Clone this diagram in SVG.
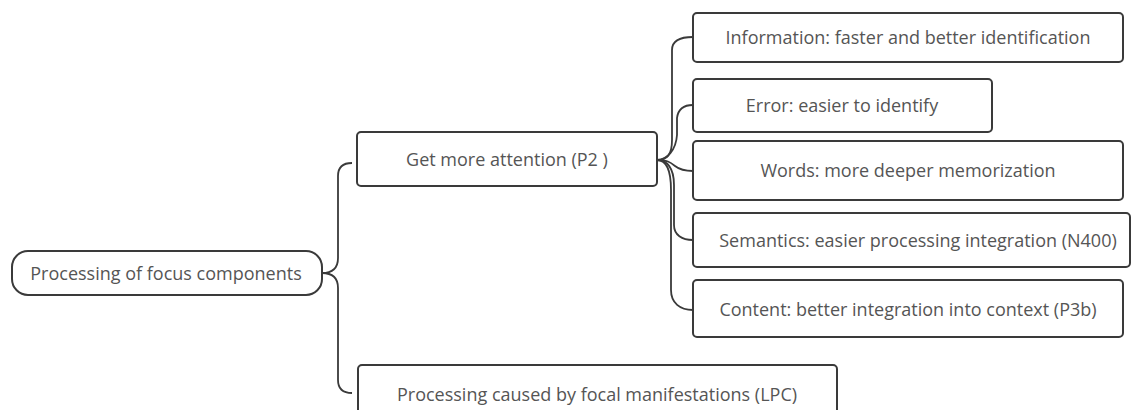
<svg xmlns="http://www.w3.org/2000/svg" width="1132" height="410" viewBox="0 0 1132 410">
<style>
.box{fill:#fff;stroke:#3a3a3a;stroke-width:2}
.t{font-family:"Open Sans","Noto Sans",sans-serif;font-size:18px;fill:#555;text-anchor:middle}
.c{fill:none;stroke:#3a3a3a;stroke-width:1.8}
</style>
<rect width="1132" height="410" fill="#fff"/>
<g id="connectors">
<path class="c" d="M322,273 C332,273 338,268 338,258 L338,176 C338,168 342,163 352,163"/>
<path class="c" d="M322,273 C332,273 338,278 338,288 L338,380 C338,388 342,393 352,393"/>
<path class="c" d="M657,160 C667,160 672,155 672,140 L672,50 C672,42 678,37 693,37"/>
<path class="c" d="M657,160 C667,160 676,150 677,135 L677,118 C678,110 683,105 693,105"/>
<path class="c" d="M657,160 C667,160 670,162 675,166 C680,170 685,171 693,171"/>
<path class="c" d="M657,160 C667,160 674,168 674,185 L674,225 C674,235 682,240 693,240"/>
<path class="c" d="M657,160 C667,160 671,170 671,190 L671,290 C671,303 680,310 693,310"/>
</g>
<g id="root">
<rect class="box" x="12" y="251" width="310" height="44" rx="16"/>
<text class="t" x="166" y="280">Processing of focus components</text>
</g>
<g id="attention">
<rect class="box" x="357" y="132" width="300" height="54" rx="4"/>
<text class="t" x="507" y="166">Get more attention (P2 )</text>
</g>
<g id="information">
<rect class="box" x="693" y="13" width="430" height="49" rx="4"/>
<text class="t" x="908" y="44">Information: faster and better identification</text>
</g>
<g id="error">
<rect class="box" x="693" y="79" width="299" height="53" rx="4"/>
<text class="t" x="842" y="112">Error: easier to identify</text>
</g>
<g id="words">
<rect class="box" x="693" y="141" width="430" height="59" rx="4"/>
<text class="t" x="908" y="177">Words: more deeper memorization</text>
</g>
<g id="semantics">
<rect class="box" x="693" y="213" width="437" height="54" rx="4"/>
<text class="t" x="918" y="247">Semantics: easier processing integration (N400)</text>
</g>
<g id="content">
<rect class="box" x="693" y="280" width="430" height="57" rx="4"/>
<text class="t" x="908" y="316">Content: better integration into context (P3b)</text>
</g>
<g id="lpc">
<rect class="box" x="358" y="365" width="479" height="60" rx="4"/>
<text class="t" x="597" y="401">Processing caused by focal manifestations (LPC)</text>
</g>
</svg>
